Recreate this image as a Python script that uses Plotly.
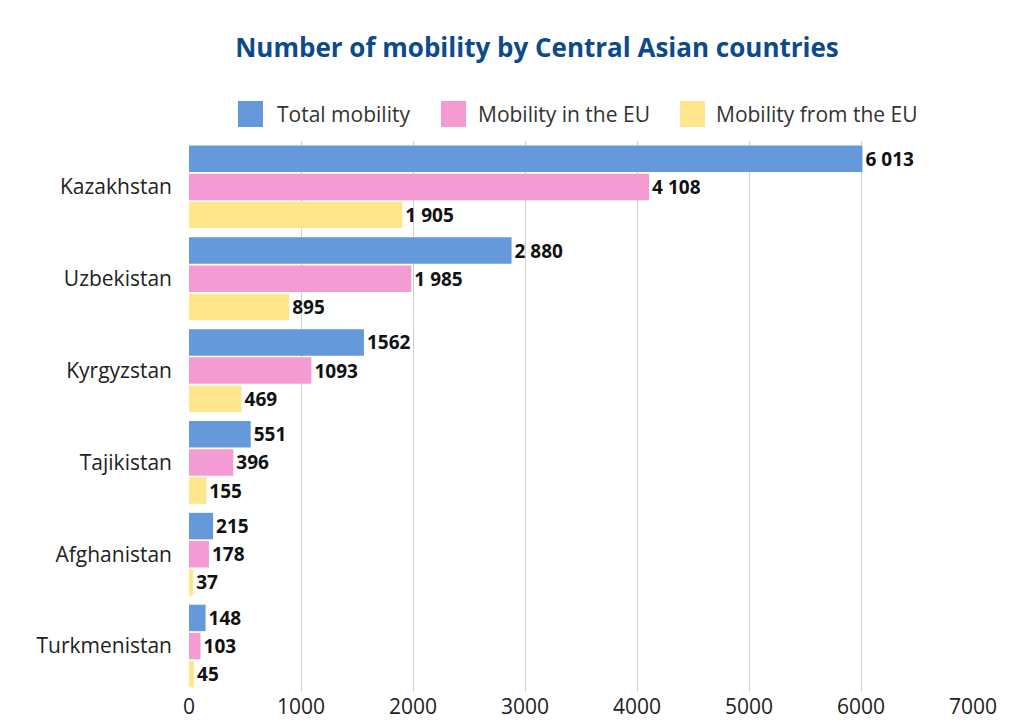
import plotly.graph_objects as go

countries = ["Kazakhstan", "Uzbekistan", "Kyrgyzstan", "Tajikistan", "Afghanistan", "Turkmenistan"]
total = [6013, 2880, 1562, 551, 215, 148]
in_eu = [4108, 1985, 1093, 396, 178, 103]
from_eu = [1905, 895, 469, 155, 37, 45]
total_labels = ["6 013", "2 880", "1562", "551", "215", "148"]
in_eu_labels = ["4 108", "1 985", "1093", "396", "178", "103"]
from_eu_labels = ["1 905", "895", "469", "155", "37", "45"]
x_ticks = [0, 1000, 2000, 3000, 4000, 5000, 6000, 7000]

FONT = "Open Sans"
series = [
    ("Total mobility", total, total_labels, "#6699dc"),
    ("Mobility in the EU", in_eu, in_eu_labels, "#f49bd3"),
    ("Mobility from the EU", from_eu, from_eu_labels, "#fee68c"),
]

W, H = 1016, 716
L, R, T, B = 181, 51, 133, 32
PW, PH = W - L - R, H - T - B


def px(x):
    return (x - L) / PW


def py(y):
    return (H - B - y) / PH


fig = go.Figure()
for name, vals, labels, color in series:
    fig.add_trace(go.Bar(
        y=countries, x=vals, name=name, orientation="h",
        marker=dict(color=color, line=dict(width=0)),
        text=["<b>" + t + "</b>" for t in labels],
        textposition="outside",
        textfont=dict(family=FONT, size=19, color="#111111"),
        cliponaxis=False, showlegend=False,
    ))

# legend drawn manually (large square swatches as in the reference)
legend_pos = [(230, 267), (433, 468), (672, 706)]
for (name, _, _, color), (sx, tx) in zip(series, legend_pos):
    fig.add_shape(type="rect", xref="paper", yref="paper",
                  x0=px(sx), x1=px(sx + 25), y0=py(93), y1=py(119),
                  fillcolor=color, line=dict(width=0))
    fig.add_annotation(xref="paper", yref="paper", x=px(tx), y=py(106),
                       xanchor="left", yanchor="middle", showarrow=False,
                       text=name, font=dict(family=FONT, size=21, color="#333333"))

fig.update_layout(
    width=W, height=H,
    paper_bgcolor="white", plot_bgcolor="white",
    barmode="group", bargap=0.08, bargroupgap=0.06,
    margin=dict(l=L, r=R, t=T, b=B, autoexpand=False),
    title=dict(text="<b>Number of mobility by Central Asian countries</b>",
               x=529 / W, xanchor="center", y=1 - 40 / H, yanchor="middle",
               font=dict(family=FONT, size=26, color="#0d4a8c")),
    showlegend=False,
    font=dict(family=FONT),
)
fig.update_xaxes(range=[0, 7000], tickvals=x_ticks, showgrid=True, gridcolor="#cfcfcf",
                 gridwidth=1, zeroline=False, showline=False, automargin=False,
                 tickfont=dict(family=FONT, size=21, color="#222222"))
fig.update_yaxes(autorange="reversed", showgrid=False, showline=False, zeroline=False,
                 ticklabelstandoff=16, automargin=False,
                 tickfont=dict(family=FONT, size=21, color="#222222"))

fig.write_html("out.html")
